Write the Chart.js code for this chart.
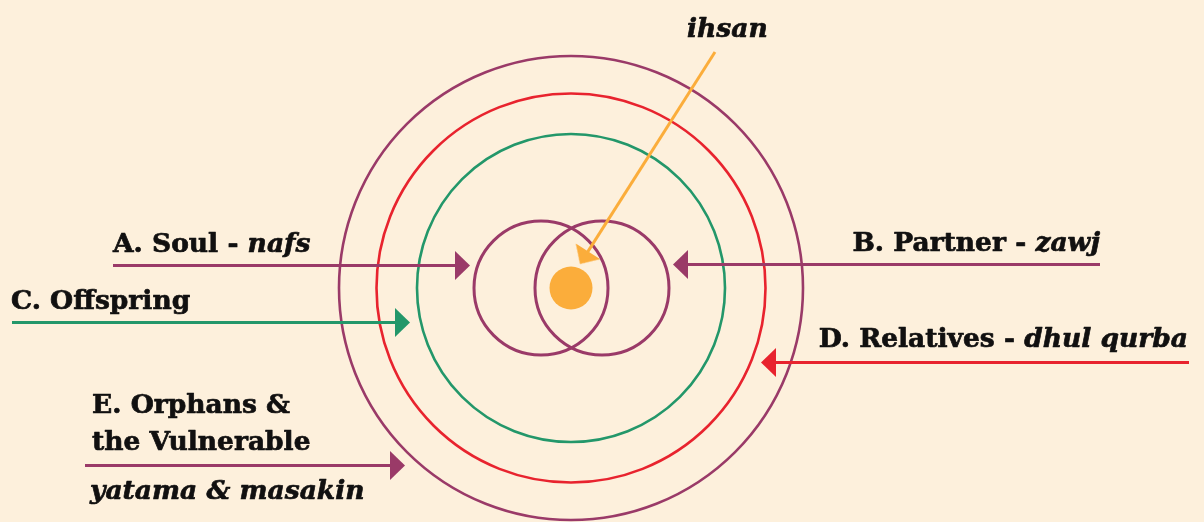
<!DOCTYPE html>
<html>
<head>
<meta charset="utf-8">
<script src="https://cdn.jsdelivr.net/npm/chart.js@4.4.1/dist/chart.umd.min.js"></script>
<style>
    html, body { margin: 0; padding: 0; background: #fdf0dc; }
    canvas { display: block; }
</style>
</head>
<body>
<canvas id="chart" width="1204" height="522"></canvas>
<script>
// rings (centre and radius in page units)
const ringX = [571, 571, 571, 541, 602];
const ringY = [288, 288, 288, 288, 288];
const ringR = [232, 194.5, 154, 67, 67];
const ringColor = ['purple', 'red', 'green', 'purple', 'purple'];

// the dot in the middle
const dotX = [571];
const dotY = [288];
const dotR = [21.5];

// arrows: start point and tip
const arrowStartX = [113, 1100, 12, 1189, 85, 715];
const arrowStartY = [265.5, 264.5, 322.5, 362.5, 465.5, 52];
const arrowTipX = [470, 673, 410, 761, 405, 580];
const arrowTipY = [265.5, 264.5, 322.5, 362.5, 465.5, 264];
const arrowColor = ['purple', 'purple', 'green', 'red', 'purple', 'orange'];

// labels, *...* is italic
const labelText = [
    'A. Soul - *nafs*',
    'B. Partner - *zawj*',
    'C. Offspring',
    'D. Relatives - *dhul qurba*',
    'E. Orphans &',
    'the Vulnerable',
    '*yatama & masakin*',
    '*ihsan*',
];
const labelX = [113, 1100, 11, 1188, 92, 92, 90, 687];
const labelY = [252, 251, 309, 347, 413, 450, 499, 37];
const labelAlign = ['left', 'right', 'left', 'right', 'left', 'left', 'left', 'left'];

const palette = {
    purple: '#9a3a68',
    red: '#e8232e',
    green: '#23976a',
    orange: '#fbad3b',
};

const HEAD_LEN = 15;
const HEAD_WIDTH = 29;
const FONT_SIZE = 26.5;

// arrow head image, tip sits at the centre of the canvas
function makeHead(color) {
    const c = document.createElement('canvas');
    c.width = HEAD_LEN * 2;
    c.height = HEAD_WIDTH + 2;
    const g = c.getContext('2d');
    g.fillStyle = color;
    g.beginPath();
    g.moveTo(0, 1);
    g.lineTo(HEAD_LEN, c.height / 2);
    g.lineTo(0, c.height - 1);
    g.closePath();
    g.fill();
    return c;
}

const datasets = [];

// arrows first so they are drawn on top
arrowStartX.forEach((sx, i) => {
    const sy = arrowStartY[i];
    const tx = arrowTipX[i];
    const ty = arrowTipY[i];
    const len = Math.hypot(tx - sx, ty - sy);
    const ux = (tx - sx) / len;
    const uy = (ty - sy) / len;
    const color = palette[arrowColor[i]];
    const angle = Math.atan2(ty - sy, tx - sx) * 180 / Math.PI;

    datasets.push({
        type: 'scatter',
        data: [{ x: tx, y: ty }],
        pointStyle: makeHead(color),
        pointRadius: 1,
        pointRotation: angle,
        order: 0,
    });
    datasets.push({
        type: 'line',
        data: [
            { x: sx, y: sy },
            { x: tx - ux * HEAD_LEN * 0.6, y: ty - uy * HEAD_LEN * 0.6 },
        ],
        borderColor: color,
        borderWidth: 3,
        pointRadius: 0,
        fill: false,
        order: 1,
    });
});

datasets.push({
    type: 'bubble',
    data: dotX.map((x, i) => ({ x: x, y: dotY[i], r: dotR[i] })),
    backgroundColor: palette.orange,
    borderWidth: 0,
    order: 2,
});

ringX.forEach((x, i) => {
    datasets.push({
        type: 'bubble',
        data: [{ x: x, y: ringY[i], r: ringR[i] }],
        backgroundColor: 'rgba(0,0,0,0)',
        borderColor: palette[ringColor[i]],
        borderWidth: i < 3 ? 2.6 : 3,
        order: 3,
    });
});

const labelPlugin = {
    id: 'labels',
    afterDatasetsDraw(chart) {
        const ctx = chart.ctx;
        const xs = chart.scales.x;
        const ys = chart.scales.y;
        ctx.save();
        ctx.fillStyle = '#111010';
        ctx.strokeStyle = '#111010';
        ctx.lineWidth = 0.7;
        ctx.lineJoin = 'round';
        ctx.textBaseline = 'alphabetic';
        ctx.textAlign = 'left';
        labelText.forEach((text, i) => {
            const parts = text.split('*').map((t, k) => ({ t: t, italic: k % 2 === 1 })).filter(p => p.t);
            const fontOf = (p) => (p.italic ? 'italic ' : '') + 'bold ' + FONT_SIZE + 'px "DejaVu Serif"';
            let total = 0;
            parts.forEach(p => {
                ctx.font = fontOf(p);
                p.w = ctx.measureText(p.t).width;
                total += p.w;
            });
            let x = xs.getPixelForValue(labelX[i]);
            const y = ys.getPixelForValue(labelY[i]);
            if (labelAlign[i] === 'right') x -= total;
            parts.forEach(p => {
                ctx.font = fontOf(p);
                ctx.fillText(p.t, x, y);
                ctx.strokeText(p.t, x, y);
                x += p.w;
            });
        });
        ctx.restore();
    },
};

new Chart(document.getElementById('chart'), {
    type: 'scatter',
    data: { datasets: datasets },
    options: {
        responsive: false,
        animation: false,
        events: [],
        layout: { padding: 0, autoPadding: false },
        scales: {
            x: { type: 'linear', min: 0, max: 1204, display: false },
            y: { type: 'linear', min: 0, max: 522, reverse: true, display: false },
        },
        plugins: {
            legend: { display: false },
            tooltip: { enabled: false },
        },
    },
    plugins: [labelPlugin],
});
</script>
</body>
</html>
